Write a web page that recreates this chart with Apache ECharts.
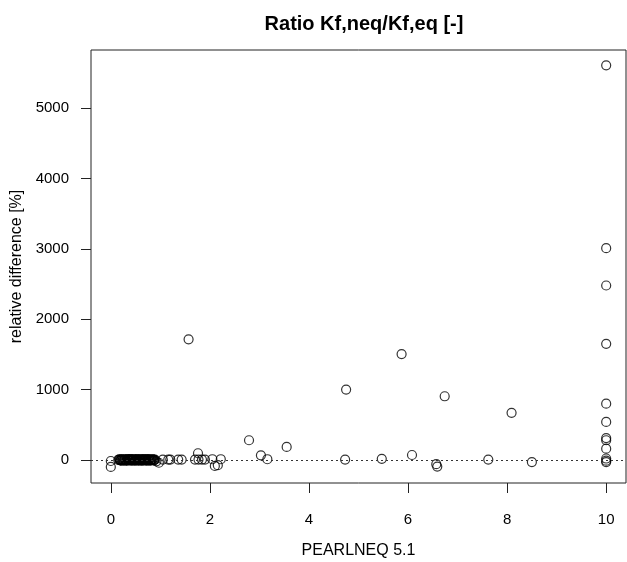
<!DOCTYPE html>
<html>
<head>
<meta charset="utf-8">
<script src="https://cdn.jsdelivr.net/npm/echarts@6/dist/echarts.min.js"></script>
<style>
html,body{margin:0;padding:0;background:#fff;}
#chart{width:627px;height:562px;}
</style>
</head>
<body>
<div id="chart"></div>
<script>
// Data
const xValues = [
  0.00, 0.00,
  0.18, 0.20, 0.22, 0.24, 0.26, 0.28, 0.30, 0.32, 0.34, 0.36, 0.38, 0.40,
  0.42, 0.44, 0.46, 0.48, 0.50, 0.52, 0.54, 0.56, 0.58, 0.60, 0.62, 0.64,
  0.66, 0.68, 0.70, 0.72, 0.74, 0.76, 0.78, 0.80, 0.82, 0.84, 0.86, 0.88,
  0.15, 0.17, 0.19, 0.21, 0.23, 0.25, 0.27, 0.29, 0.31, 0.33, 0.35, 0.37,
  0.39, 0.41, 0.43, 0.45, 0.47, 0.49, 0.51, 0.53, 0.55, 0.57, 0.59, 0.61,
  0.63, 0.65, 0.67, 0.69, 0.71, 0.73, 0.75, 0.77, 0.79, 0.81, 0.83, 0.85,
  0.87, 0.89,
  0.92, 0.97, 1.05, 1.16, 1.20, 1.36, 1.43, 1.57, 1.70, 1.76, 1.77, 1.84, 1.90,
  2.05, 2.10, 2.16, 2.22, 2.79, 3.03, 3.16, 3.55, 4.73, 4.75, 5.47, 5.87,
  6.08, 6.57, 6.59, 6.74, 7.62, 8.09, 8.50,
  10, 10, 10, 10, 10, 10, 10, 10, 10, 10, 10, 10
];
const yValues = [
  -15, -100,
  5, -5, 10, 0, -8, 6, 2, -10, 8, -4, 3, 12,
  -6, 0, 9, -12, 4, -2, 7, -9, 1, 10, -5, 3,
  -11, 6, 0, -7, 11, -3, 5, -10, 2, 8, -4, 0,
  0, 8, -6, 3, -12, 10, -2, 6, -9, 12, 1, -5,
  7, -11, 4, -3, 9, -8, 2, 11, -6, 0, 5, -10,
  8, -4, 12, -1, 6, -12, 3, 9, -7, 1, -3, 10,
  -5, 4,
  -20, -40, 5, 5, 5, 5, 5, 1715, 5, 95, 5, 5, 5,
  10, -85, -75, 10, 280, 65, 10, 185, 5, 1000, 15, 1505,
  70, -60, -95, 905, 5, 670, -30,
  5610, 3010, 2480, 1650, 800, 540, 310, 280, 160, 20, -10, -30
];
const xTicks = [0, 2, 4, 6, 8, 10];
const yTicks = [0, 1000, 2000, 3000, 4000, 5000];
const titleText = 'Ratio Kf,neq/Kf,eq [-]';
const xTitle = 'PEARLNEQ 5.1';
const yTitle = 'relative difference [%]';

const points = xValues.map((x, i) => [x, yValues[i]]);
const font = 'Liberation Sans, Arial, Helvetica, sans-serif';

const chart = echarts.init(document.getElementById('chart'), null, {renderer: 'canvas'});
chart.setOption({
  animation: false,
  backgroundColor: '#ffffff',
  title: {
    text: titleText,
    left: 359,
    top: 9,
    textAlign: 'center',
    textStyle: {fontFamily: font, fontSize: 20, fontWeight: 'bold', color: '#000'}
  },
  grid: {
    left: 91, right: 1, top: 50, bottom: 79,
    outerBoundsMode: 'none',
    containLabel: false,
    show: true, borderColor: '#222', borderWidth: 1, backgroundColor: 'transparent'
  },
  xAxis: {
    type: 'value',
    min: -0.4, max: 10.4,
    name: xTitle,
    nameLocation: 'middle',
    nameGap: 60,
    nameTextStyle: {fontFamily: font, fontSize: 16, color: '#000'},
    axisLine: {show: false, onZero: false},
    axisTick: {show: true, length: 10, customValues: xTicks, lineStyle: {color: '#222', width: 1}},
    axisLabel: {customValues: xTicks, margin: 29, fontFamily: font, fontSize: 15, color: '#000',
      formatter: v => String(v)},
    splitLine: {show: false}
  },
  yAxis: {
    type: 'value',
    min: -328, max: 5828,
    name: yTitle,
    nameLocation: 'middle',
    nameGap: 66,
    nameTextStyle: {fontFamily: font, fontSize: 16, color: '#000'},
    axisLine: {show: false, onZero: false},
    axisTick: {show: true, length: 10, customValues: yTicks, lineStyle: {color: '#222', width: 1}},
    axisLabel: {customValues: yTicks, margin: 22, fontFamily: font, fontSize: 15, color: '#000',
      formatter: v => String(v)},
    splitLine: {show: false}
  },
  series: [{
    type: 'scatter',
    data: points,
    symbol: 'circle',
    symbolSize: 9,
    itemStyle: {color: 'rgba(0,0,0,0)', borderColor: '#000', borderWidth: 1.2},
    markLine: {
      silent: true,
      symbol: ['none', 'none'],
      label: {show: false},
      lineStyle: {color: '#333', type: [2, 3], width: 1},
      data: [{yAxis: 0}]
    }
  }]
});
</script>
</body>
</html>
